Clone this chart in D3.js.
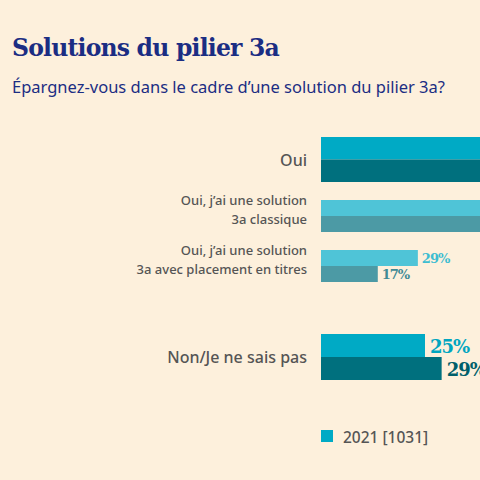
<!DOCTYPE html><html><head><meta charset="utf-8"><script src="https://cdn.jsdelivr.net/npm/d3@7"></script>
<style>body{margin:0;background:#fdf0dc;overflow:hidden}</style></head><body><script>
const categories=["Oui","Oui, j’ai une solution|3a classique","Oui, j’ai une solution|3a avec placement en titres","Non/Je ne sais pas"];
const series=["2021 [1031]","2022"];
const values2021=[75,71,29,25];
const values2022=[71,83,17,29];
const labels=["","","29%|17%","25%|29%"];
const W=480,H=480;
const svg=d3.select("body").append("svg").attr("width",W).attr("height",H);
svg.append("rect").attr("width",W).attr("height",H).attr("fill","#fdf0dc");
svg.append("text").attr("x",12).attr("y",56).text("Solutions du pilier 3a").attr("font-family","DejaVu Serif").attr("font-weight","bold").attr("font-size",23.5).attr("fill","#1b2d83").attr("letter-spacing",-0.8);
svg.append("text").attr("x",12).attr("y",93).text("Épargnez-vous dans le cadre d’une solution du pilier 3a?").attr("font-family","Noto Sans").attr("font-size",16.5).attr("fill","#1b2d83");
const xMain=d3.scaleLinear().domain([0,100]).range([321,321+416]);
const xSub=d3.scaleLinear().domain([0,100]).range([321,321+334]);
const groups=[{y:137,h:22.5,sub:false},{y:200,h:16,sub:true},{y:250,h:16,sub:true},{y:334,h:23,sub:false}];
const colMain=["#00aac5","#00707e"],colSub=["#4fc4d7","#4c9aa5"];
const labCol=[["",""],["",""],["#3dbdd1","#3f8a94"],["#00a6c0","#005f6b"]];
groups.forEach((g,i)=>{
  const x=g.sub?xSub:xMain,c=g.sub?colSub:colMain;
  [values2021[i],values2022[i]].forEach((v,j)=>{
    svg.append("rect").attr("x",x(0)).attr("y",g.y+j*g.h).attr("width",x(v)-x(0)).attr("height",g.h).attr("fill",c[j]);
    if(labels[i]){const t=labels[i].split("|")[j];
      svg.append("text").attr("x",x(v)+(g.sub?4:5)).attr("y",g.y+j*g.h+g.h/2+(g.sub?5:7)).text(t).attr("font-family","DejaVu Serif").attr("font-weight","bold").attr("font-size",g.sub?13:18).attr("letter-spacing",-1).attr("fill",labCol[i][j]);}
  });
  const lines=categories[i].split("|");
  const cy=g.y+g.h;
  lines.forEach((l,k)=>{
    svg.append("text").attr("x",307).attr("text-anchor","end").attr("y",g.sub?cy-4+(k-0.5)*19+2:cy+6).text(l).attr("font-family","Noto Sans").attr("font-weight","500").attr("font-size",g.sub?13:16).attr("fill","#555");
  });
});
svg.append("rect").attr("x",321).attr("y",430).attr("width",12).attr("height",12).attr("fill",colMain[0]);
svg.append("text").attr("x",343).attr("y",443).text(series[0]).attr("font-family","Noto Sans").attr("font-weight","500").attr("font-size",15.5).attr("fill","#555");
</script></body></html>
